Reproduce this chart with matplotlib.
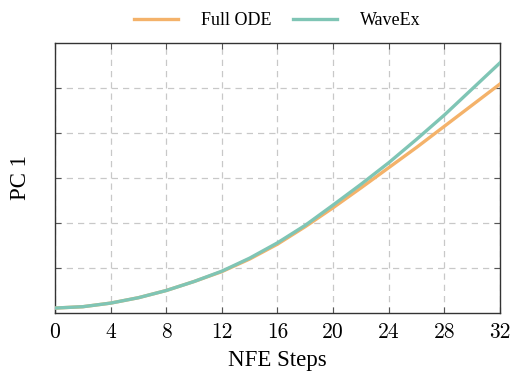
import matplotlib
matplotlib.use("Agg")
import matplotlib.pyplot as plt

# NFE step vs first principal component
steps = [0, 2, 4, 6, 8, 10, 12, 14, 16, 18, 20, 22, 24, 26, 28, 30, 32]
full_ode = [0.11, 0.14, 0.22, 0.34, 0.50, 0.70, 0.92, 1.20, 1.53, 1.92,
            2.34, 2.78, 3.23, 3.68, 4.15, 4.62, 5.09]
waveex = [0.11, 0.14, 0.22, 0.34, 0.50, 0.70, 0.93, 1.22, 1.56, 1.95,
          2.40, 2.86, 3.34, 3.86, 4.40, 4.98, 5.56]
xticks = [0, 4, 8, 12, 16, 20, 24, 28, 32]
yticks = [1, 2, 3, 4, 5]

plt.rcParams['axes.formatter.use_mathtext'] = True

fig = plt.figure(figsize=(5.11, 3.71), dpi=100)
ax = fig.add_axes([0.1076, 0.1563, 0.8709, 0.7278])

ax.plot(steps, full_ode, color="#F4B26A", lw=2.4, label="Full ODE", zorder=3)
ax.plot(steps, waveex, color="#7FC5B5", lw=2.4, label="WaveEx", zorder=4)

ax.set_xlim(0, 32)
ax.set_ylim(0, 6)
ax.set_xticks(xticks)
ax.set_yticks(yticks)
ax.set_yticklabels([])
ax.set_xticklabels([str(t) for t in xticks], fontfamily="cmr10", fontsize=15.5)

ax.tick_params(direction="in", top=True, right=True, length=4, width=0.8,
               color="#555555", pad=7)
ax.grid(True, color="#c8c8c8", linestyle=(0, (5, 4)), linewidth=0.9)
for sp in ax.spines.values():
    sp.set_color("#333333")
    sp.set_linewidth(1.0)

ax.set_xlabel("NFE Steps", fontfamily="Liberation Serif", fontsize=16.5, labelpad=5.5)
ax.set_ylabel("PC 1", fontfamily="Liberation Serif", fontsize=16.5, labelpad=10)

ax.legend(loc="lower center", bbox_to_anchor=(0.5, 1.025), ncol=2, frameon=False,
          prop={"family": "Liberation Serif", "size": 13}, handlelength=2.4,
          columnspacing=1.2, handletextpad=1.3, borderaxespad=0)

fig.savefig("out.png", dpi=100)
